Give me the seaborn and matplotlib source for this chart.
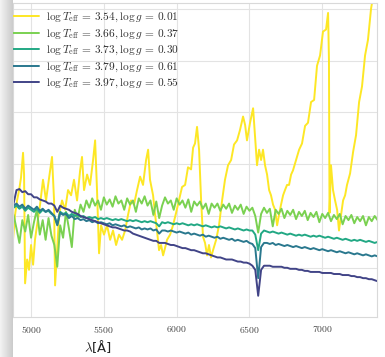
import numpy as np
import pandas as pd
import matplotlib
matplotlib.use("Agg")
import matplotlib.pyplot as plt
import seaborn as sns

# ---------------- data ----------------
labels = [
    r"$\log T_{\rm eff} \,=\, 3.54, \log g \,=\, 0.01$",
    r"$\log T_{\rm eff} \,=\, 3.66, \log g \,=\, 0.37$",
    r"$\log T_{\rm eff} \,=\, 3.73, \log g \,=\, 0.30$",
    r"$\log T_{\rm eff} \,=\, 3.79, \log g \,=\, 0.61$",
    r"$\log T_{\rm eff} \,=\, 3.97, \log g \,=\, 0.55$",
]
colors = ["#fde725", "#7ad151", "#22a884", "#2a788e", "#414487"]

x_ticks = [5000, 5500, 6000, 6500, 7000]

# wavelength sampling of the four hotter spectra (Angstrom)
wave_grid = list(range(4880, 7400, 20))

# coolest star: its own (irregular) sampling
wave_354 = [
    4876, 4890, 4904, 4918, 4931, 4945, 4952, 4959, 4973, 4986,
    5000, 5014, 5027, 5041, 5062, 5082, 5103, 5124, 5144, 5158,
    5165, 5179, 5192, 5213, 5234, 5254, 5275, 5295, 5316, 5337,
    5350, 5364, 5385, 5405, 5426, 5440, 5453, 5467, 5481, 5501,
    5522, 5543, 5563, 5584, 5604, 5625, 5646, 5666, 5687, 5707,
    5728, 5749, 5769, 5790, 5804, 5817, 5838, 5852, 5865, 5879,
    5893, 5907, 5920, 5934, 5955, 5975, 5996, 6016, 6037, 6058,
    6078, 6099, 6113, 6126, 6140, 6154, 6168, 6181, 6195, 6209,
    6222, 6236, 6250, 6271, 6291, 6312, 6332, 6353, 6374, 6394,
    6415, 6435, 6456, 6470, 6483, 6504, 6525, 6538, 6552, 6566,
    6580, 6593, 6607, 6621, 6635, 6648, 6662, 6676, 6690, 6703,
    6717, 6731, 6744, 6758, 6772, 6786, 6799, 6820, 6841, 6861,
    6882, 6902, 6923, 6944, 6964, 6985, 7005, 7026, 7040, 7046,
    7050, 7060, 7074, 7088, 7102, 7115, 7129, 7143, 7157, 7170,
    7191, 7212, 7232, 7253, 7273, 7294, 7314, 7335, 7356, 7376,
]
flux_354 = [
    0.77, 1.01, 1.15, 1.25, 1.37, 1.61, 1.40, 0.35, 0.58, 0.48,
    0.72, 0.53, 0.77, 0.91, 1.11, 1.35, 1.15, 1.37, 1.57, 1.15,
    0.33, 0.67, 1.01, 1.15, 1.06, 1.25, 1.20, 1.35, 1.15, 1.44,
    1.57, 1.25, 1.40, 1.30, 1.54, 1.73, 1.25, 0.64, 0.91, 0.82,
    0.91, 0.77, 0.86, 0.72, 0.82, 0.77, 0.86, 1.01, 1.15, 1.11,
    1.25, 1.38, 1.30, 1.54, 1.64, 1.35, 1.20, 1.01, 0.86, 0.67,
    0.72, 0.62, 0.69, 0.77, 0.82, 0.91, 1.03, 1.15, 1.28, 1.30,
    1.47, 1.45, 1.66, 1.70, 1.86, 1.64, 1.15, 0.80, 0.74, 0.62,
    0.72, 0.60, 0.67, 0.77, 0.91, 1.15, 1.35, 1.49, 1.54, 1.69,
    1.73, 1.83, 1.96, 1.88, 1.73, 1.90, 2.04, 1.78, 1.49, 1.64,
    1.54, 1.64, 1.49, 1.40, 1.25, 1.20, 1.11, 1.06, 0.91, 1.01,
    1.11, 1.20, 1.25, 1.30, 1.30, 1.40, 1.44, 1.54, 1.64, 1.70,
    1.87, 1.90, 2.10, 2.12, 2.45, 2.55, 2.78, 2.80, 2.96, 2.51,
    1.03, 1.49, 1.25, 1.15, 1.06, 0.86, 1.01, 1.15, 1.20, 1.30,
    1.41, 1.62, 1.78, 2.10, 2.25, 2.55, 2.70, 3.00, 3.18, 3.37,
]

flux_366 = [
    1.01, 0.88, 0.74, 0.96, 0.85, 1.01, 0.79, 0.94, 1.06, 0.82,
    0.96, 0.77, 0.98, 0.81, 0.72, 0.51, 0.91, 0.79, 1.04, 0.88,
    0.70, 1.06, 0.98, 1.11, 1.04, 1.15, 1.08, 1.17, 1.10, 1.15,
    1.06, 1.18, 1.11, 1.16, 1.09, 1.19, 1.12, 1.15, 1.06, 1.17,
    1.11, 1.15, 1.04, 1.17, 1.12, 1.19, 1.10, 1.15, 1.01, 1.14,
    0.98, 1.10, 1.18, 1.12, 1.15, 1.06, 1.17, 1.11, 1.15, 1.08,
    1.16, 1.04, 1.14, 1.10, 1.14, 1.07, 1.12, 1.02, 1.12, 1.08,
    1.12, 1.05, 1.11, 1.07, 1.12, 1.03, 1.10, 1.06, 1.11, 1.02,
    1.09, 1.05, 1.08, 1.00, 0.84, 1.02, 1.08, 1.03, 1.07, 0.90,
    1.06, 1.02, 1.07, 0.98, 1.05, 1.01, 1.06, 0.97, 1.04, 1.00,
    1.05, 0.96, 1.03, 0.99, 1.04, 0.94, 1.02, 0.98, 1.03, 0.95,
    1.01, 0.97, 1.02, 0.92, 1.00, 0.96, 1.01, 0.93, 0.99, 0.95,
    1.00, 0.91, 0.99, 0.95, 1.00, 0.96,
]

flux_373 = [
    1.08, 1.10, 1.07, 1.09, 1.05, 1.08, 1.06, 1.04, 1.07, 1.03,
    1.06, 1.04, 1.05, 1.02, 1.00, 0.92, 1.04, 1.02, 1.03, 1.00,
    1.02, 1.00, 1.01, 0.99, 1.00, 0.98, 0.99, 0.98, 0.99, 0.97,
    0.98, 0.97, 0.98, 0.97, 0.96, 0.97, 0.96, 0.97, 0.96, 0.95,
    0.96, 0.95, 0.96, 0.95, 0.94, 0.95, 0.94, 0.95, 0.94, 0.93,
    0.90, 0.94, 0.93, 0.94, 0.93, 0.92, 0.93, 0.92, 0.93, 0.92,
    0.91, 0.92, 0.91, 0.92, 0.91, 0.90, 0.91, 0.90, 0.89, 0.90,
    0.89, 0.90, 0.89, 0.88, 0.89, 0.88, 0.87, 0.88, 0.87, 0.86,
    0.87, 0.86, 0.86, 0.82, 0.67, 0.83, 0.86, 0.85, 0.84, 0.85,
    0.84, 0.83, 0.84, 0.83, 0.82, 0.83, 0.82, 0.81, 0.82, 0.81,
    0.82, 0.81, 0.80, 0.81, 0.80, 0.81, 0.80, 0.79, 0.80, 0.79,
    0.78, 0.79, 0.78, 0.77, 0.78, 0.77, 0.76, 0.77, 0.76, 0.77,
    0.76, 0.75, 0.76, 0.75, 0.74, 0.75,
]

flux_379 = [
    1.10, 1.12, 1.09, 1.11, 1.07, 1.10, 1.08, 1.06, 1.09, 1.05,
    1.07, 1.04, 1.06, 1.03, 1.00, 0.91, 1.03, 1.01, 1.02, 0.98,
    1.00, 0.97, 0.98, 0.96, 0.97, 0.95, 0.96, 0.94, 0.95, 0.93,
    0.94, 0.93, 0.92, 0.93, 0.91, 0.92, 0.91, 0.90, 0.91, 0.89,
    0.90, 0.89, 0.88, 0.89, 0.87, 0.88, 0.87, 0.88, 0.86, 0.87,
    0.83, 0.86, 0.86, 0.85, 0.86, 0.85, 0.84, 0.85, 0.84, 0.83,
    0.84, 0.82, 0.83, 0.82, 0.81, 0.82, 0.80, 0.81, 0.80, 0.79,
    0.80, 0.78, 0.79, 0.78, 0.77, 0.78, 0.76, 0.77, 0.76, 0.75,
    0.76, 0.74, 0.73, 0.69, 0.40, 0.70, 0.74, 0.74, 0.73, 0.74,
    0.72, 0.73, 0.72, 0.71, 0.72, 0.71, 0.70, 0.71, 0.70, 0.69,
    0.70, 0.69, 0.68, 0.69, 0.68, 0.67, 0.68, 0.67, 0.66, 0.67,
    0.66, 0.65, 0.66, 0.65, 0.64, 0.65, 0.64, 0.63, 0.64, 0.63,
    0.62, 0.63, 0.62, 0.61, 0.62, 0.61,
]

flux_397 = [
    1.12, 1.25, 1.26, 1.23, 1.24, 1.21, 1.21, 1.18, 1.18, 1.16,
    1.15, 1.14, 1.12, 1.12, 1.10, 1.04, 1.10, 1.08, 1.07, 1.06,
    1.04, 1.03, 1.02, 1.00, 0.99, 0.98, 0.97, 0.96, 0.95, 0.94,
    0.93, 0.92, 0.91, 0.90, 0.89, 0.89, 0.88, 0.87, 0.86, 0.86,
    0.85, 0.83, 0.82, 0.81, 0.80, 0.79, 0.78, 0.77, 0.76, 0.76,
    0.74, 0.74, 0.74, 0.73, 0.72, 0.72, 0.71, 0.70, 0.69, 0.69,
    0.68, 0.67, 0.67, 0.66, 0.65, 0.64, 0.64, 0.63, 0.62, 0.61,
    0.60, 0.60, 0.59, 0.58, 0.58, 0.58, 0.57, 0.56, 0.56, 0.55,
    0.55, 0.54, 0.52, 0.48, 0.23, 0.48, 0.52, 0.52, 0.52, 0.51,
    0.51, 0.51, 0.51, 0.50, 0.50, 0.49, 0.49, 0.49, 0.48, 0.48,
    0.47, 0.47, 0.46, 0.46, 0.46, 0.46, 0.45, 0.45, 0.45, 0.45,
    0.44, 0.44, 0.44, 0.43, 0.43, 0.43, 0.42, 0.42, 0.41, 0.41,
    0.40, 0.40, 0.39, 0.39, 0.38, 0.37,
]

# ---------------- table ----------------
frames = [pd.DataFrame({"wave": wave_354, "flux": flux_354, "label": labels[0]})]
for lab, fl in zip(labels[1:], [flux_366, flux_373, flux_379, flux_397]):
    frames.append(pd.DataFrame({"wave": wave_grid, "flux": fl, "label": lab}))
df = pd.concat(frames, ignore_index=True)

# ---------------- style ----------------
sns.set_style("whitegrid", {"grid.color": "#e3e3e3", "axes.edgecolor": "#d9d9d9"})
plt.rcParams["mathtext.fontset"] = "cm"
plt.rcParams["font.family"] = ["DejaVu Sans"]

W, H = 385, 357
fig = plt.figure(figsize=(W / 100, H / 100), dpi=100)

ax = fig.add_axes([13 / W, 1 - 317 / H, 364 / W, 314 / H])
sns.lineplot(data=df, x="wave", y="flux", hue="label", hue_order=labels,
             palette=colors, estimator=None, sort=False, lw=1.4, ax=ax)

ax.set_xlim(4876, 7376)
ax.set_ylim(0.025, 3.056)
ax.set_xticks(x_ticks)
ax.set_xticklabels([f"${t}$" for t in x_ticks])
ax.set_yticks([0.5, 1.0, 1.5, 2.0, 2.5, 3.0])
ax.set_yticklabels([])
ax.tick_params(axis="x", labelsize=7, pad=5, colors="#444444", length=0)
ax.tick_params(axis="y", length=0)
ax.set_xlabel("")
ax.set_ylabel("")
for s in ax.spines.values():
    s.set_linewidth(0.8)

fig.text(98 / W, 1 - 347 / H, r"$\lambda$[Å]", ha="center", va="center",
         fontsize=9.5, color="#222222")

handles, lbls = ax.get_legend_handles_labels()
leg = ax.legend(handles, lbls, loc="upper left", bbox_to_anchor=(-0.003, 0.978),
                frameon=False, fontsize=8.2, handlelength=2.3, handletextpad=0.6,
                labelspacing=0.27, borderaxespad=0.0, borderpad=0.1)
for t in leg.get_texts():
    t.set_color("#333333")

# left shaded strip (edge of the cropped page)
sax = fig.add_axes([0, 0, 13 / W, 1])
grad = np.linspace(0.95, 0.80, 13)[None, :]
sax.imshow(np.repeat(grad, 10, axis=0), cmap="gray", vmin=0, vmax=1,
           aspect="auto", interpolation="bilinear")
sax.set_axis_off()

fig.savefig("out.png", dpi=100)
